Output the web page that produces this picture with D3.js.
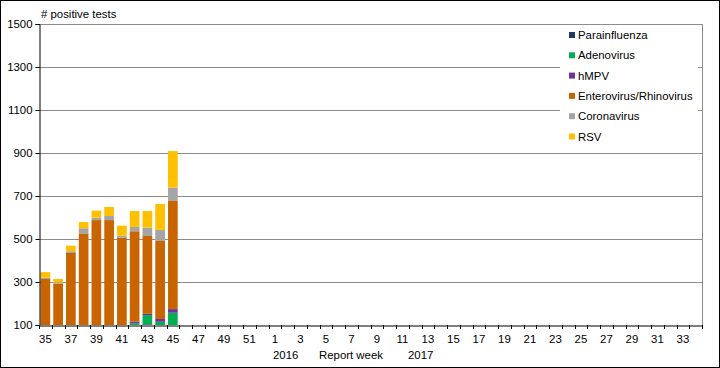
<!DOCTYPE html>
<html>
<head>
<meta charset="utf-8">
<script src="https://cdn.jsdelivr.net/npm/d3@7"></script>
<style>
  body { margin: 0; background: #fff; }
  svg { display: block; font-family: "Liberation Sans", Arial, sans-serif; }
</style>
</head>
<body>
<svg id="chart" width="720" height="368"></svg>
<script>
(function(d3) {
    'use strict';

    // report weeks 35..52 (2016) then 1..34 (2017)
    var weeks = d3.range(35, 53).concat(d3.range(1, 35));

    var dataWeeks   = [35, 36, 37, 38, 39, 40, 41, 42, 43, 44, 45];
    var para        = [30, 25, 35, 40, 45, 40, 50, 60, 103, 85, 90];
    var adeno       = [30, 30, 25, 30, 30, 35, 25, 48, 43, 30, 67];
    var hmpv        = [15, 12, 15, 20, 15, 15, 10, 8, 6, 13, 17];
    var entero      = [239, 225, 360, 436, 498, 498, 421, 420, 362, 363, 503];
    var corona      = [6, 5, 8, 24, 11, 19, 9, 20, 39, 51, 62];
    var rsv         = [26, 17, 26, 29, 33, 42, 47, 74, 77, 121, 170];

    var seriesNames  = ['Parainfluenza', 'Adenovirus', 'hMPV', 'Enterovirus/Rhinovirus', 'Coronavirus', 'RSV'];
    var seriesColors = ['#1f3864', '#00b050', '#7030a0', '#c96500', '#a5a5a5', '#ffc000'];
    var yTicks = [100, 300, 500, 700, 900, 1100, 1300, 1500];

    var seriesValues = [para, adeno, hmpv, entero, corona, rsv];
    var rows = dataWeeks.map(function(w, i) {
        var r = { week: w };
        seriesNames.forEach(function(n, j) { r[n] = seriesValues[j][i]; });
        return r;
    });

    var fs = 11.4;
    var svg = d3.select('#chart');
    var margin = { left: 39, top: 24, right: 702, bottom: 325 };

    // outer frame
    svg.append('rect')
        .attr('x', 0.5).attr('y', 0.5)
        .attr('width', 719).attr('height', 367)
        .attr('fill', '#fff').attr('stroke', '#000');

    var x = d3.scaleBand()
        .domain(weeks)
        .range([margin.left, margin.right])
        .paddingInner(0.24)
        .paddingOuter(0.12);

    var y = d3.scaleLinear()
        .domain([100, 1500])
        .range([margin.bottom, margin.top]);

    // gridlines
    svg.append('g')
        .selectAll('line')
        .data(yTicks.slice(1))
        .join('line')
        .attr('x1', margin.left).attr('x2', margin.right)
        .attr('y1', function(d) { return Math.round(y(d)) + 0.5; })
        .attr('y2', function(d) { return Math.round(y(d)) + 0.5; })
        .attr('stroke', '#8c8c8c');

    svg.append('line')
        .attr('x1', margin.right + 0.5).attr('x2', margin.right + 0.5)
        .attr('y1', margin.top).attr('y2', margin.bottom)
        .attr('stroke', '#8c8c8c');

    // bars, clipped to plot area
    svg.append('clipPath').attr('id', 'plotclip')
        .append('rect')
        .attr('x', margin.left).attr('y', margin.top)
        .attr('width', margin.right - margin.left)
        .attr('height', margin.bottom - margin.top);

    var stack = d3.stack().keys(seriesNames);
    var layers = stack(rows);

    svg.append('g')
        .attr('clip-path', 'url(#plotclip)')
        .selectAll('g')
        .data(layers)
        .join('g')
        .attr('fill', function(d, i) { return seriesColors[i]; })
        .selectAll('rect')
        .data(function(d) { return d; })
        .join('rect')
        .attr('x', function(d) { return x(d.data.week); })
        .attr('width', x.bandwidth())
        .attr('y', function(d) { return y(d[1]); })
        .attr('height', function(d) { return Math.max(0, y(d[0]) - y(d[1])); });

    // y axis
    var yAxis = d3.axisLeft(y)
        .tickValues(yTicks)
        .tickSize(4)
        .tickPadding(3)
        .tickFormat(d3.format('d'));

    var gy = svg.append('g')
        .attr('transform', 'translate(' + (margin.left + 0.5) + ',0)')
        .call(yAxis);
    gy.select('.domain').attr('stroke', '#000');
    gy.selectAll('.tick line').attr('stroke', '#000');
    gy.selectAll('text')
        .attr('font-size', fs)
        .attr('font-family', '"Liberation Sans", Arial, sans-serif')
        .attr('fill', '#000');

    // x axis
    var xAxis = d3.axisBottom(x)
        .tickSize(0)
        .tickPadding(9)
        .tickFormat(function(d, i) { return i % 2 === 0 ? d : ''; });

    var gx = svg.append('g')
        .attr('transform', 'translate(0,' + (margin.bottom + 0.5) + ')')
        .call(xAxis);
    gx.select('.domain').attr('stroke', '#000');
    gx.selectAll('text')
        .attr('font-size', fs)
        .attr('font-family', '"Liberation Sans", Arial, sans-serif')
        .attr('fill', '#000');

    // ticks between categories
    svg.append('g')
        .selectAll('line')
        .data(d3.range(weeks.length + 1))
        .join('line')
        .attr('x1', function(i) { return Math.round(margin.left + i * (margin.right - margin.left) / weeks.length) + 0.5; })
        .attr('x2', function(i) { return Math.round(margin.left + i * (margin.right - margin.left) / weeks.length) + 0.5; })
        .attr('y1', margin.bottom)
        .attr('y2', margin.bottom + 4)
        .attr('stroke', '#000');

    // second row of x labels
    var row2 = svg.append('g')
        .attr('font-size', fs)
        .attr('fill', '#000');
    row2.append('text').attr('x', 273).attr('y', 359).text('2016');
    row2.append('text').attr('x', 319).attr('y', 359).text('Report week');
    row2.append('text').attr('x', 408).attr('y', 359).text('2017');

    // y title
    svg.append('text')
        .attr('x', 41).attr('y', 18)
        .attr('font-size', fs)
        .attr('fill', '#000')
        .text('# positive tests');

    // legend
    var legend = svg.append('g');
    legend.append('rect')
        .attr('x', 560).attr('y', 26)
        .attr('width', 138).attr('height', 122)
        .attr('fill', '#fff');

    var items = legend.selectAll('g.item')
        .data(seriesNames)
        .join('g')
        .attr('class', 'item')
        .attr('transform', function(d, i) { return 'translate(569,' + (35 + i * 20.3) + ')'; });

    items.append('rect')
        .attr('x', 0).attr('y', -3)
        .attr('width', 6).attr('height', 6)
        .attr('fill', function(d, i) { return seriesColors[i]; });

    items.append('text')
        .attr('x', 9).attr('y', 4)
        .attr('font-size', fs)
        .attr('fill', '#000')
        .text(function(d) { return d; });

}(window.d3));
</script>
</body>
</html>
